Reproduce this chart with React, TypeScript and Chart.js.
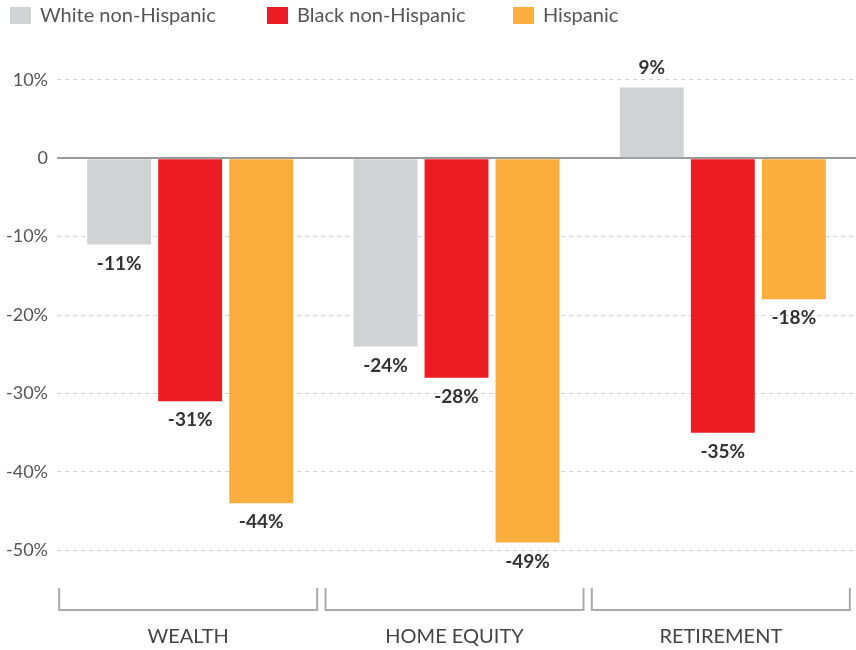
import React, { useEffect, useRef } from "react";
import { Chart, registerables } from "chart.js";

Chart.register(...registerables);

const categories = ["WEALTH", "HOME EQUITY", "RETIREMENT"];
const seriesNames = ["White non-Hispanic", "Black non-Hispanic", "Hispanic"];
const whiteValues = [-11, -24, 9];
const blackValues = [-31, -28, -35];
const hispanicValues = [-44, -49, -18];
const seriesColors = ["#D1D2D4", "#ED1C24", "#F9AE3E"];
const yTicks = [10, 0, -10, -20, -30, -40, -50];

const FONT = "Lato, 'Open Sans', sans-serif";

const legendPlugin = {
  id: "customLegend",
  afterDraw(chart: any) {
    const ctx = chart.ctx;
    const xs = [10, 267, 513];
    ctx.save();
    chart.data.datasets.forEach((ds: any, i: number) => {
      ctx.fillStyle = ds.backgroundColor;
      ctx.fillRect(xs[i], 7, 21, 17);
      ctx.fillStyle = "#555";
      ctx.font = `20px ${FONT}`;
      ctx.textBaseline = "middle";
      ctx.textAlign = "left";
      ctx.fillText(ds.label, xs[i] + 30, 16);
    });
    ctx.restore();
  },
};

const valueLabelPlugin = {
  id: "valueLabels",
  afterDatasetsDraw(chart: any) {
    const ctx = chart.ctx;
    ctx.save();
    ctx.font = `bold 19px ${FONT}`;
    ctx.fillStyle = "#333";
    ctx.textAlign = "center";
    ctx.textBaseline = "middle";
    chart.data.datasets.forEach((ds: any, di: number) => {
      const meta = chart.getDatasetMeta(di);
      meta.data.forEach((bar: any, i: number) => {
        const v = ds.data[i];
        const y = v < 0 ? bar.y + 19 : bar.y - 20;
        ctx.fillText(`${v}%`, bar.x, y);
      });
    });
    ctx.restore();
  },
};

const bracketPlugin = {
  id: "brackets",
  afterDraw(chart: any) {
    const ctx = chart.ctx;
    const xs = chart.scales.x;
    ctx.save();
    ctx.strokeStyle = "#ABABAB";
    ctx.lineWidth = 2;
    categories.forEach((label, i) => {
      const c = xs.getPixelForValue(i);
      const l = c - 131;
      const r = c + 127;
      ctx.beginPath();
      ctx.moveTo(l, 588);
      ctx.lineTo(l, 610);
      ctx.lineTo(r, 610);
      ctx.lineTo(r, 588);
      ctx.stroke();
      ctx.fillStyle = "#444";
      ctx.font = `20px ${FONT}`;
      ctx.textAlign = "center";
      ctx.textBaseline = "middle";
      ctx.fillText(label, (l + r) / 2, 637);
    });
    ctx.restore();
  },
};

export default function App() {
  const ref = useRef<HTMLCanvasElement>(null);
  useEffect(() => {
    document.body.style.margin = "0";
    const chart = new Chart(ref.current!, {
      type: "bar",
      data: {
        labels: categories,
        datasets: [whiteValues, blackValues, hispanicValues].map((d, i) => ({
          label: seriesNames[i],
          data: d,
          backgroundColor: seriesColors[i],
          categoryPercentage: 0.8,
          barPercentage: 0.9,
        })),
      },
      options: {
        animation: false,
        responsive: false,
        devicePixelRatio: 1,
        layout: { padding: { top: 64, bottom: 84, left: 0, right: 0 } },
        plugins: { legend: { display: false }, tooltip: { enabled: false } },
        scales: {
          x: {
            display: false,
          },
          y: {
            min: -52,
            max: 12,
            afterBuildTicks: (scale: any) => {
              scale.ticks = yTicks.map((v) => ({ value: v }));
            },
            afterFit: (scale: any) => {
              scale.width = 57;
            },
            border: {
              display: false,
              dash: (ctx: any) => (ctx.tick && ctx.tick.value === 0 ? [] : [4, 4]),
            },
            grid: {
              drawTicks: false,
              color: (ctx: any) => (ctx.tick && ctx.tick.value === 0 ? "#9A9A9A" : "#D0D0D0"),
              lineWidth: (ctx: any) => (ctx.tick && ctx.tick.value === 0 ? 2 : 1),
            },
            ticks: {
              padding: 9,
              color: "#555",
              font: { family: FONT, size: 18 },
              callback: (v: any) => (v === 0 ? "0" : `${v}%`),
            },
          },
        },
      },
      plugins: [legendPlugin, valueLabelPlugin, bracketPlugin],
    });
    return () => chart.destroy();
  }, []);
  return <canvas ref={ref} width={856} height={650} />;
}
